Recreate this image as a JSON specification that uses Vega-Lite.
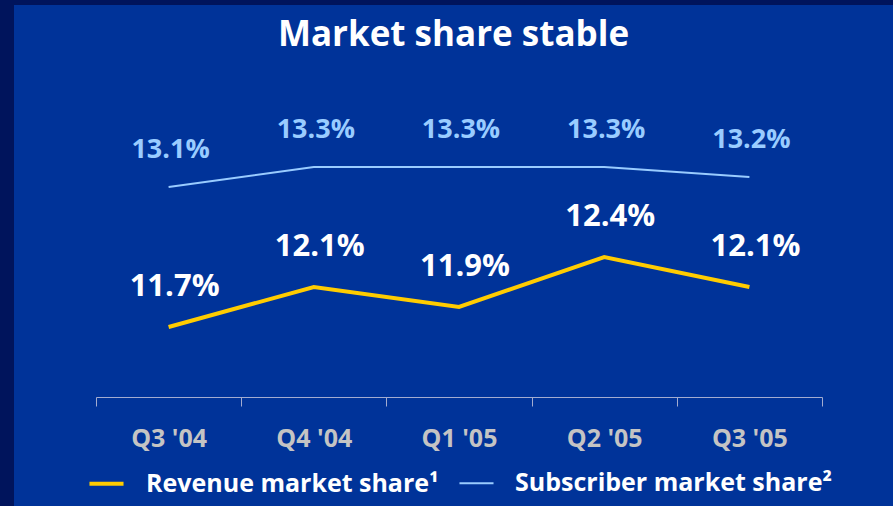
{
  "$schema": "https://vega.github.io/schema/vega-lite/v6.json",
  "width": 879,
  "height": 501,
  "autosize": {"type": "none"},
  "padding": {"left": 14, "top": 5, "right": 0, "bottom": 0},
  "background": "#00145c",
  "title": {
    "text": "Market share stable",
    "color": "#ffffff",
    "font": "Open Sans",
    "fontSize": 35,
    "fontWeight": "bold",
    "anchor": "middle",
    "baseline": "alphabetic",
    "offset": -76
  },
  "config": {
    "view": {"stroke": null, "fill": "#003399"},
    "font": "Open Sans"
  },
  "data": {
    "values": [
      {"quarter": "Q3 '04", "series": "Revenue market share¹", "share": 0.117},
      {"quarter": "Q4 '04", "series": "Revenue market share¹", "share": 0.121},
      {"quarter": "Q1 '05", "series": "Revenue market share¹", "share": 0.119},
      {"quarter": "Q2 '05", "series": "Revenue market share¹", "share": 0.124},
      {"quarter": "Q3 '05", "series": "Revenue market share¹", "share": 0.121},
      {"quarter": "Q3 '04", "series": "Subscriber market share²", "share": 0.131},
      {"quarter": "Q4 '04", "series": "Subscriber market share²", "share": 0.133},
      {"quarter": "Q1 '05", "series": "Subscriber market share²", "share": 0.133},
      {"quarter": "Q2 '05", "series": "Subscriber market share²", "share": 0.133},
      {"quarter": "Q3 '05", "series": "Subscriber market share²", "share": 0.132}
    ]
  },
  "encoding": {
    "x": {
      "field": "quarter",
      "type": "ordinal",
      "sort": null,
      "scale": {"type": "band", "paddingInner": 0, "paddingOuter": 0, "range": [82, 808]},
      "axis": {
        "title": null,
        "offset": -109,
        "labelAngle": 0,
        "labelColor": "#c4c4c4",
        "labelFont": "Open Sans",
        "labelFontSize": 25,
        "labelFontWeight": "bold",
        "labelPadding": 20,
        "domainColor": "#a3acd0",
        "tickColor": "#a3acd0",
        "tickSize": 9,
        "tickBand": "extent",
        "grid": false
      }
    },
    "y": {
      "field": "share",
      "type": "quantitative",
      "scale": {"domain": [0.11, 0.14], "zero": false, "range": [392, 92]},
      "axis": null
    }
  },
  "layer": [
    {
      "mark": {"type": "line", "strokeCap": "butt"},
      "encoding": {
        "color": {
          "field": "series",
          "type": "nominal",
          "scale": {"domain": ["Revenue market share¹", "Subscriber market share²"], "range": ["#ffcc00", "#99ccff"]},
          "legend": {
            "title": null,
            "orient": "none",
            "legendX": 73,
            "legendY": 459,
            "direction": "horizontal",
            "symbolType": "stroke",
            "symbolSize": 1160,
            "symbolStrokeWidth": 4,
            "labelColor": "#ffffff",
            "labelFont": "Open Sans",
            "labelFontSize": 25,
            "labelFontWeight": "bold",
            "labelOffset": 20,
            "labelLimit": 400,
            "columnPadding": 16
          }
        },
        "strokeWidth": {
          "field": "series",
          "type": "nominal",
          "scale": {"domain": ["Revenue market share¹", "Subscriber market share²"], "range": [4, 2]},
          "legend": null
        }
      }
    },
    {
      "transform": [{"filter": "datum.series === 'Revenue market share¹'"}],
      "mark": {"type": "text", "color": "#ffffff", "font": "Open Sans", "fontSize": 31, "fontWeight": "bold", "dy": -40, "dx": 6},
      "encoding": {"text": {"field": "share", "type": "quantitative", "format": ".1%"}}
    },
    {
      "transform": [{"filter": "datum.series === 'Subscriber market share²'"}],
      "mark": {"type": "text", "color": "#99ccff", "font": "Open Sans", "fontSize": 27, "fontWeight": "bold", "dy": -37, "dx": 2},
      "encoding": {"text": {"field": "share", "type": "quantitative", "format": ".1%"}}
    }
  ]
}
